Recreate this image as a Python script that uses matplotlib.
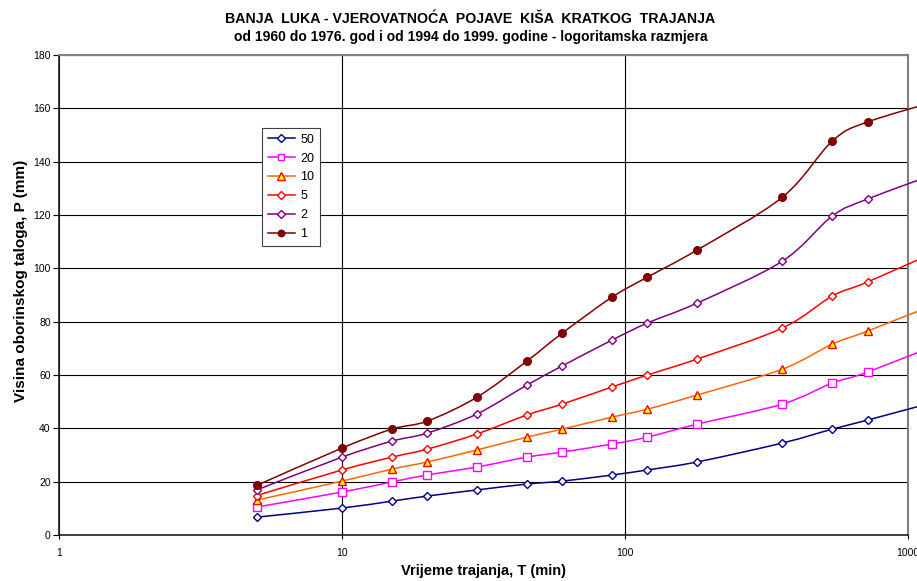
import numpy as np
import matplotlib
matplotlib.use("Agg")
import matplotlib.pyplot as plt
from matplotlib.path import Path
from matplotlib.patches import PathPatch
from matplotlib.lines import Line2D

plt.rcParams['font.family'] = ['Liberation Sans', 'DejaVu Sans']

# duration in minutes (last point lies past the axis end, as in the source)
durations = [5, 10, 15, 20, 30, 45, 60, 90, 120, 180, 360, 540, 720, 1440]

# precipitation depth (mm) per return period
p50 = [6.7, 10.1, 12.7, 14.6, 16.9, 19.1, 20.2, 22.5, 24.4, 27.4, 34.5, 39.7, 43.1, 51.7]
p20 = [10.5, 16.1, 19.9, 22.5, 25.5, 29.2, 31.1, 34.1, 36.7, 41.6, 49.1, 57.0, 61.1, 73.7]
p10 = [13.1, 20.2, 24.7, 27.4, 31.9, 36.7, 39.7, 44.2, 47.2, 52.5, 62.2, 71.6, 76.5, 89.1]
p5 = [14.8, 24.4, 29.2, 32.2, 37.9, 45.0, 49.1, 55.5, 60.0, 66.0, 77.6, 89.6, 94.9, 109.0]
p2 = [16.9, 29.2, 35.2, 38.2, 45.4, 56.2, 63.4, 73.1, 79.5, 87.0, 102.7, 119.6, 126.0, 137.8]
p1 = [18.6, 32.6, 39.7, 42.7, 51.7, 65.2, 75.7, 89.2, 96.7, 106.9, 126.7, 147.7, 154.9, 164.4]

labels = ['50', '20', '10', '5', '2', '1']
series = [p50, p20, p10, p5, p2, p1]

styles = [
    dict(color='#000080', marker='D', ms=4.5, mfc='white', mec='#000080'),
    dict(color='#FF00FF', marker='s', ms=5.5, mfc='white', mec='#FF00FF'),
    dict(color='#FF6600', marker='^', ms=6, mfc='#FFFF00', mec='#FF0000'),
    dict(color='#FF0000', marker='D', ms=4.5, mfc='white', mec='#FF0000'),
    dict(color='#800080', marker='D', ms=4.5, mfc='white', mec='#800080'),
    dict(color='#800000', marker='o', ms=5.5, mfc='#800000', mec='#800000'),
]


def smooth_path(x, y):
    # Excel-like smoothed line: cubic Bezier segments in log-x space
    lx = np.log10(x)
    y = np.asarray(y, dtype=float)
    n = len(lx)
    verts = [(x[0], y[0])]
    codes = [Path.MOVETO]
    for i in range(n - 1):
        i0 = max(i - 1, 0)
        i3 = min(i + 2, n - 1)
        c1x = lx[i] + (lx[i + 1] - lx[i0]) / 6
        c1y = y[i] + (y[i + 1] - y[i0]) / 6
        c2x = lx[i + 1] - (lx[i3] - lx[i]) / 6
        c2y = y[i + 1] - (y[i3] - y[i]) / 6
        verts += [(10 ** c1x, c1y), (10 ** c2x, c2y), (x[i + 1], y[i + 1])]
        codes += [Path.CURVE4] * 3
    return Path(verts, codes)


fig = plt.figure(figsize=(9.17, 5.81), dpi=100)
ax = fig.add_axes([59 / 917, 46 / 581, 849 / 917, 480 / 581])

handles = []
for vals, lab, st in zip(series, labels, styles):
    patch = PathPatch(smooth_path(durations, vals), facecolor='none',
                      edgecolor=st['color'], lw=1.1, clip_on=False, zorder=3)
    ax.add_patch(patch)
    ax.plot(durations, vals, ls='none', marker=st['marker'], ms=st['ms'],
            mfc=st['mfc'], mec=st['mec'], mew=1.0, zorder=4, clip_on=False)
    handles.append(Line2D([], [], color=st['color'], lw=1.1, marker=st['marker'],
                          ms=st['ms'] * 0.85, mfc=st['mfc'], mec=st['mec'], label=lab))

ax.set_xscale('log')
ax.set_xlim(1, 1000)
ax.set_ylim(0, 180)
ax.set_yticks(np.arange(0, 181, 20))
ax.set_xticks([1, 10, 100, 1000])
ax.set_xticklabels(['1', '10', '100', '1000'])
ax.xaxis.set_minor_locator(matplotlib.ticker.NullLocator())

ax.grid(True, which='major', color='black', lw=0.8)
ax.set_axisbelow(True)

for side in ['top', 'right']:
    ax.spines[side].set_color('#808080')
    ax.spines[side].set_linewidth(1.5)
for side in ['left', 'bottom']:
    ax.spines[side].set_color('#202020')
    ax.spines[side].set_linewidth(1.2)

ax.tick_params(axis='y', direction='out', length=4, labelsize=7.5, pad=2)
ax.tick_params(axis='x', direction='inout', length=6, labelsize=7.5, pad=6)

ax.set_xlabel('Vrijeme trajanja, T (min)', fontsize=10.5, fontweight='bold', labelpad=5)
ax.set_ylabel('Visina oborinskog taloga, P (mm)', fontsize=11, fontweight='bold')
ax.yaxis.set_label_coords(-0.037, 0.53)

fig.text(0.513, 0.968, 'BANJA  LUKA - VJEROVATNOĆA  POJAVE  KIŠA  KRATKOG  TRAJANJA',
         ha='center', va='center', fontsize=10.2, fontweight='bold')
fig.text(0.513, 0.937, 'od 1960 do 1976. god i od 1994 do 1999. godine - logoritamska razmjera',
         ha='center', va='center', fontsize=10, fontweight='bold')

leg = ax.legend(handles=handles, loc='upper left',
                bbox_to_anchor=((262 - 59) / 849, (535 - 128) / 480),
                fontsize=9, frameon=True, fancybox=False, framealpha=1,
                edgecolor='#404040', handlelength=2.2, handletextpad=0.4,
                labelspacing=0.55, borderpad=0.45, borderaxespad=0)
leg.get_frame().set_linewidth(0.8)

fig.savefig('out.png', dpi=100)
